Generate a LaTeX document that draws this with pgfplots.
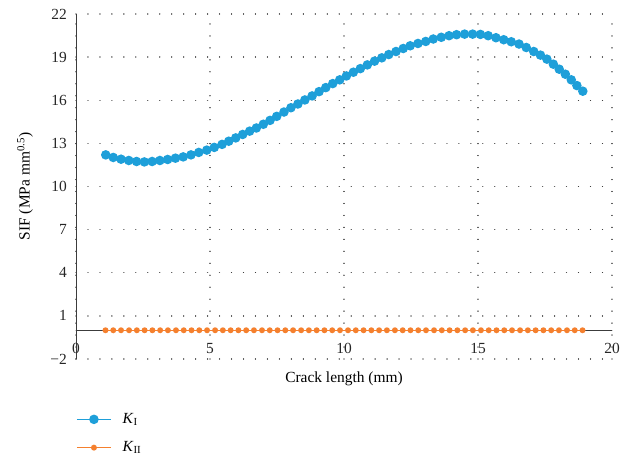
\documentclass[border=0pt]{standalone}
\usepackage{pgfplots}
\pgfplotsset{compat=1.18}
\usepackage{fontspec}
\setmainfont{Liberation Serif}
\definecolor{kone}{RGB}{30,159,217}
\definecolor{ktwo}{RGB}{245,128,46}
\definecolor{axgray}{RGB}{60,60,60}
\begin{document}
\fontsize{15}{18}\selectfont
\begin{tikzpicture}
\useasboundingbox (-76bp,-107bp) rectangle (547bp,359bp);
\begin{axis}[
  at={(0,0)}, anchor=south west,
  scale only axis, width=536bp, height=345bp,
  xmin=0, xmax=20, ymin=-2, ymax=22,
  axis y line=left, axis x line=bottom,
  axis line style={-, draw=axgray, line width=0.9pt},
  x axis line style={draw=none},
  xtick={0,5,10,15,20}, xticklabels={0,5,10,15,20},
  ytick={-2,1,4,7,10,13,16,19,22},
  yticklabels={−2,1,4,7,10,13,16,19,22},
  extra y ticks={0}, extra y tick labels={},
  extra y tick style={grid=major, major grid style={solid, draw=axgray, line width=0.9pt}},
  major tick length=0pt,
  tick label style={font=\fontsize{15.5}{18}\selectfont, text=black!85},
  xticklabel style={yshift=21pt},
  yticklabel style={xshift=-4pt},
  grid=major,
  major grid style={draw=black!75, line width=1.3pt, dash pattern=on 0.01pt off 12pt, line cap=round},
  xlabel={Crack length (mm)},
  ylabel={SIF (MPa mm\textsuperscript{0.5})},
  xlabel style={at={(axis description cs:0.5,0)}, anchor=center, yshift=-20pt, font=\fontsize{15.5}{18}\selectfont},
  ylabel style={at={(axis description cs:-0.095,0.5)}, anchor=center, rotate=0, font=\fontsize{15.5}{18}\selectfont},
  legend style={at={(axis description cs:0,0)}, anchor=north west, yshift=-50bp, draw=none, fill=none,
    inner xsep=0pt, row sep=12pt, font=\fontsize{15.5}{18}\selectfont,
    nodes={inner xsep=11pt}},
  legend cell align=left,
  clip=false,
]
\addplot[color=kone, line width=1.5pt, mark=*, mark size=4pt, mark options={solid, fill=kone, draw=kone},
  legend image code/.code={\draw[kone, line width=1.5pt] (0cm,0cm) -- (1.2cm,0cm);
    \fill[kone] (0.6cm,0cm) circle (4pt);}] coordinates {
(1.11,12.20) (1.39,12.02) (1.68,11.90) (1.97,11.81) (2.26,11.74) (2.55,11.71) (2.84,11.74) (3.13,11.81)
(3.42,11.88) (3.71,11.97) (4.00,12.06) (4.29,12.20) (4.58,12.37) (4.88,12.53) (5.16,12.72) (5.45,12.93)
(5.70,13.15) (5.96,13.38) (6.22,13.62) (6.48,13.85) (6.73,14.07) (6.99,14.33) (7.24,14.60) (7.49,14.88)
(7.76,15.18) (8.02,15.48) (8.28,15.74) (8.54,16.02) (8.81,16.30) (9.07,16.60) (9.32,16.88) (9.58,17.16)
(9.84,17.42) (10.09,17.69) (10.35,17.95) (10.61,18.20) (10.87,18.46) (11.14,18.72) (11.41,18.95)
(11.67,19.18) (11.94,19.39) (12.21,19.60) (12.47,19.79) (12.76,19.95) (13.05,20.09) (13.33,20.26)
(13.63,20.38) (13.92,20.49) (14.20,20.56) (14.50,20.60) (14.80,20.60) (15.09,20.58) (15.38,20.49)
(15.67,20.35) (15.96,20.21) (16.24,20.07) (16.53,19.91) (16.80,19.67) (17.08,19.39) (17.33,19.14)
(17.57,18.86) (17.81,18.51) (18.03,18.16) (18.26,17.81) (18.48,17.42) (18.69,17.02) (18.91,16.63)
};
\addlegendentry{\textit{K}\textsubscript{I}}
\addplot[color=ktwo, line width=1.5pt, mark=*, mark size=2.2pt, mark options={solid, fill=ktwo, draw=ktwo},
  legend image code/.code={\draw[ktwo, line width=1.5pt] (0cm,0cm) -- (1.2cm,0cm);
    \fill[ktwo] (0.6cm,0cm) circle (2.2pt);}] coordinates {
(1.10,0) (1.39,0) (1.68,0) (1.98,0) (2.27,0) (2.56,0) (2.85,0) (3.14,0) (3.43,0) (3.73,0)
(4.02,0) (4.31,0) (4.60,0) (4.89,0) (5.19,0) (5.48,0) (5.77,0) (6.06,0) (6.35,0) (6.64,0)
(6.94,0) (7.23,0) (7.52,0) (7.81,0) (8.10,0) (8.40,0) (8.69,0) (8.98,0) (9.27,0) (9.56,0)
(9.85,0) (10.15,0) (10.44,0) (10.73,0) (11.02,0) (11.31,0) (11.60,0) (11.90,0) (12.19,0) (12.48,0)
(12.77,0) (13.06,0) (13.36,0) (13.65,0) (13.94,0) (14.23,0) (14.52,0) (14.81,0) (15.11,0) (15.40,0)
(15.69,0) (15.98,0) (16.27,0) (16.57,0) (16.86,0) (17.15,0) (17.44,0) (17.73,0) (18.02,0) (18.32,0)
(18.61,0) (18.90,0)
};
\addlegendentry{\textit{K}\textsubscript{II}}
\end{axis}
\end{tikzpicture}
\end{document}
